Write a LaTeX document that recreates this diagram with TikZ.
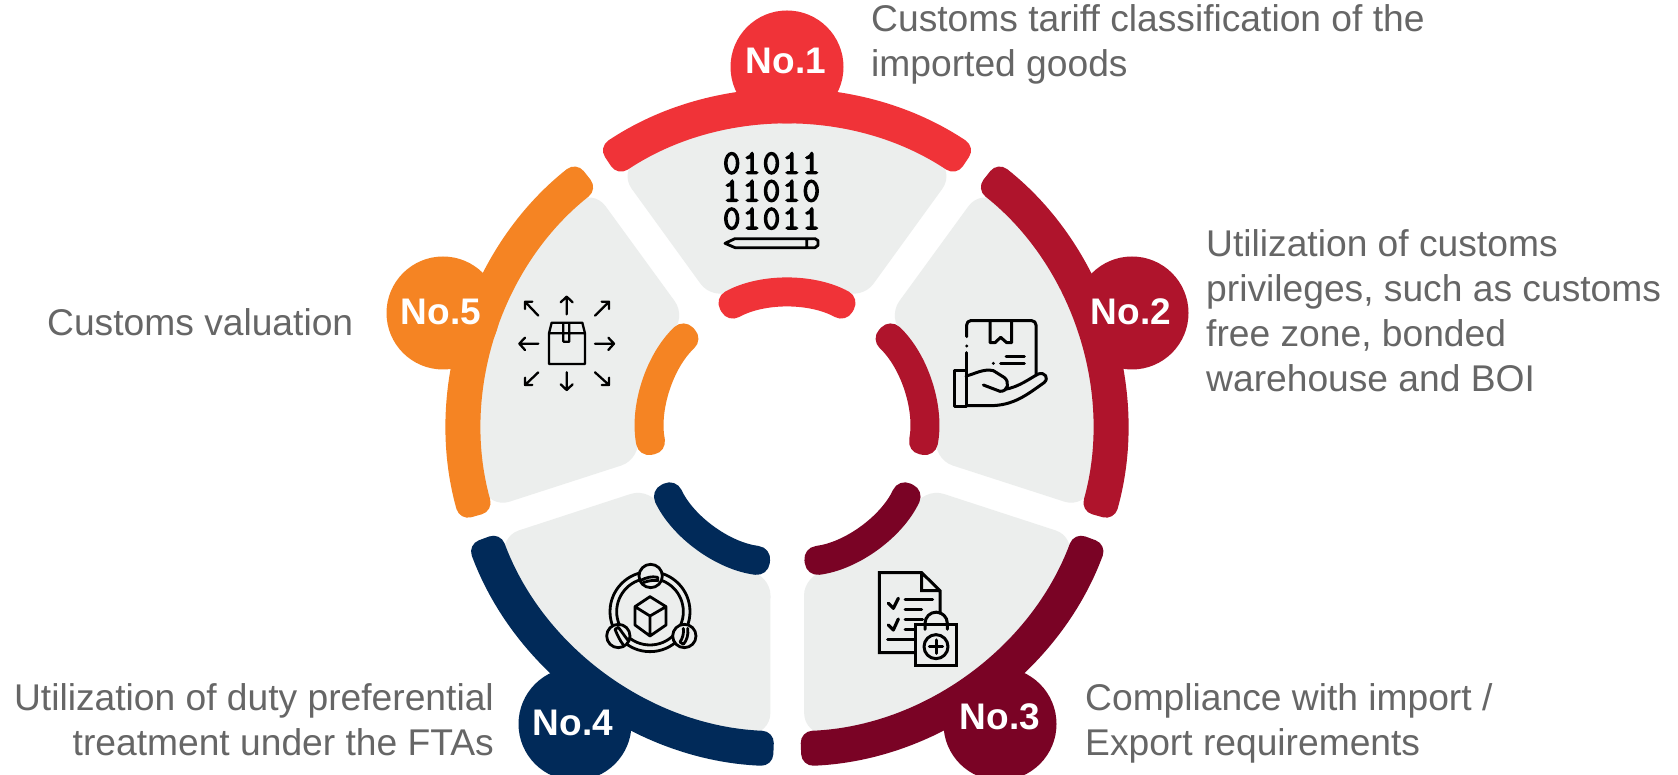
\documentclass[tikz,border=0pt]{standalone}
\usepackage{fontspec}
\setmainfont{Liberation Sans}
\newfontfamily\bitsfont[FakeBold=4,LetterSpace=7]{Latin Modern Mono}
\definecolor{cone}{HTML}{F03338}
\definecolor{ctwo}{HTML}{AF142C}
\definecolor{cthree}{HTML}{7A0325}
\definecolor{cfour}{HTML}{012A59}
\definecolor{cfive}{HTML}{F58423}
\definecolor{wedgegray}{HTML}{ECEEED}
\definecolor{txtgray}{HTML}{666666}
\tikzset{
  badge/.style={circle,minimum size=113pt,inner sep=0pt,text=white,font=\fontsize{37}{44}\selectfont\bfseries},
  desc/.style={text=txtgray,inner sep=0pt,font=\fontsize{37.2}{45}\selectfont},
  icon/.style={draw=black,line cap=round,line join=round,fill=none},
}
\newcommand{\petal}[4]{%
  \begin{scope}[shift={(787+#3,345+#4)},rotate=#1-90]
    \fill[wedgegray,rounded corners=22pt] (123:309) arc[start angle=123,end angle=57,radius=309] -- (60.2:148) arc[start angle=60.2,end angle=119.8,radius=148] -- cycle;
    \fill[#2,rounded corners=12pt] (123.7:340) arc[start angle=123.7,end angle=56.3,radius=340] -- (56.3:305) arc[start angle=56.3,end angle=123.7,radius=305] -- cycle;
    \fill[#2,rounded corners=13pt] (119:151) arc[start angle=119,end angle=61,radius=151] -- (61:122) arc[start angle=61,end angle=119,radius=122] -- cycle;
  \end{scope}}
\begin{document}
\begin{tikzpicture}[x=1pt,y=1pt]
\useasboundingbox (0,0) rectangle (1678,775);
\clip (0,0) rectangle (1678,775);
\fill[white] (0,0) rectangle (1678,775);
\petal{90}{cone}{0}{0}
\petal{18}{ctwo}{0}{1.5}
\petal{-54}{cthree}{1}{3.5}
\petal{-126}{cfour}{-0.5}{3.5}
\petal{162}{cfive}{0}{1.5}
\node[badge,fill=cone] (n1) at (787,708) {\raisebox{13pt}{No.1\kern2pt}};
\node[badge,fill=ctwo] (n2) at (1132,462) {\raisebox{2pt}{No.2\kern2pt}};
\node[badge,fill=cthree] (n3) at (1000,51) {\raisebox{15pt}{No.3}};
\node[badge,fill=cfour] (n4) at (575,51) {\raisebox{2pt}{No.4\kern4pt}};
\node[badge,fill=cfive] (n5) at (443,462) {\raisebox{2pt}{No.5\kern4pt}};
\node[desc,anchor=base west,align=left] (t1) at (871,698) {Customs tariff classification of the\\imported goods};
\node[desc,anchor=base west,align=left] (t2) at (1206,383) {Utilization of customs\\privileges, such as customs\\free zone, bonded\\warehouse and BOI};
\node[desc,anchor=base west,align=left] (t3) at (1085,19) {Compliance with import /\\Export requirements};
\node[desc,anchor=base east,align=right] (t4) at (494,19) {Utilization of duty preferential\\treatment under the FTAs};
\node[desc,anchor=base west] (t5) at (47,439) {Customs valuation};
% icon 1
\node[inner sep=0pt,align=center,font=\fontsize{34}{27.7}\selectfont\bitsfont] (bits) at (771.5,584) {01011\\11010\\01011};
\begin{scope}[shift={(690,645)},x=1/3*1pt,y=-1/3*1pt]
  \draw[icon,line width=2.8pt] (105,340)--(135,326)--(375,326)--(384,332)--(384,346)--(375,353)--(135,353)--cycle (350,326)--(350,353);
\end{scope}
% icon 2
\begin{scope}[shift={(930,475)},x=1/3*1pt,y=-1/3*1pt]
  \draw[icon,line width=3pt] (110,110)--(110,75) to[out=90,in=180] (122,62) -- (305,62) to[out=0,in=90] (318,75) -- (318,225);
  \draw[icon,line width=3pt] (110,158)--(110,212);
  \fill (110,138) circle[radius=5];
  \fill (190,190) circle[radius=5];
  \draw[icon,line width=3pt] (180,65)--(180,128)--(195,128)--(212,112)--(230,128)--(245,128)--(245,65);
  \draw[icon,line width=3pt] (228,170)--(283,170) (212,190)--(283,190);
  \draw[icon,line width=3pt] (72,213) rectangle (108,320);
  \draw[icon,line width=3pt] (108,228) .. controls (135,222) and (160,205) .. (190,212) -- (222,232) .. controls (240,245) and (235,275) .. (210,274) -- (160,255);
  \draw[icon,line width=3pt] (225,268) .. controls (265,262) and (300,235) .. (325,222) .. controls (345,215) and (358,235) .. (342,248) .. controls (290,285) and (250,317) .. (180,317) -- (108,317);
\end{scope}
% icon 3
\begin{scope}[shift={(860,225)},x=1/3*1pt,y=-1/3*1pt]
  \draw[icon,line width=3pt,line join=miter] (165,308)--(58,308)--(58,68)--(185,68)--(240,122)--(240,190) (185,68)--(185,122)--(240,122);
  \draw[icon,line width=3.2pt] (85,160)--(100,175)--(115,145) (85,225)--(100,240)--(115,207);
  \draw[icon,line width=3pt] (135,148)--(218,148) (135,178)--(185,178) (135,208)--(188,208) (135,240)--(165,240) (83,268)--(165,268);
  \draw[icon,line width=3pt,line join=miter] (167,224) rectangle (290,347);
  \draw[icon,line width=3pt] (195,238)--(195,220) arc[start angle=180,end angle=360,radius=33.5] -- (262,238);
  \draw[icon,line width=3pt] (228,290) circle[radius=36];
  \draw[icon,line width=3pt] (208,290)--(248,290) (228,270)--(228,310);
\end{scope}
% icon 4
\begin{scope}[shift={(590,225)},x=1/3*1pt,y=-1/3*1pt]
  \draw[icon,line width=2.8pt] (180,185) circle[radius=120] (180,185) circle[radius=100];
  \foreach \q/\r in {182/78,85/258,283/258}{
    \draw[icon,line width=2.8pt,fill=wedgegray] (\q,\r) circle[radius=35];
  }
  \draw[icon,line width=2.8pt] (150,92) .. controls (170,82) and (185,78) .. (203,82) -- (203,92) .. controls (190,90) and (175,92) .. (160,98);
  \draw[icon,line width=2.8pt] (75,238) -- (85,232) .. controls (95,245) and (105,260) .. (115,272) (75,238) .. controls (82,255) and (90,272) .. (100,285);
  \draw[icon,line width=2.8pt] (293,235) .. controls (296,255) and (290,272) .. (280,283) -- (270,276) .. controls (278,265) and (282,250) .. (280,235);
  \draw[icon,line width=2.8pt] (180,140)--(228,170)--(228,225)--(180,258)--(135,225)--(135,170)--cycle (135,170)--(180,198)--(228,170) (180,198)--(180,258);
\end{scope}
% icon 5
\begin{scope}[shift={(510,490)},x=1/3*1pt,y=-1/3*1pt]
  \draw[icon,line width=2.3pt,line cap=butt] (117,145) rectangle (225,237) (117,145)--(125,113)--(217,113)--(225,145) (160,113)--(160,170)--(178,170)--(178,113);
  \draw[icon,line width=2.3pt]
    (170,88)--(170,35) (152,52)--(170,35)--(188,52)
    (170,262)--(170,315) (152,298)--(170,315)--(188,298)
    (255,176)--(312,176) (295,158)--(312,176)--(295,195)
    (85,176)--(28,176) (45,158)--(28,176)--(45,195)
    (255,92)--(297,50) (275,50)--(297,50)--(297,72)
    (85,92)--(45,50) (67,50)--(45,50)--(45,72)
    (255,262)--(297,300) (275,300)--(297,300)--(297,278)
    (85,262)--(45,300) (67,300)--(45,300)--(45,278);
\end{scope}
\end{tikzpicture}
\end{document}
